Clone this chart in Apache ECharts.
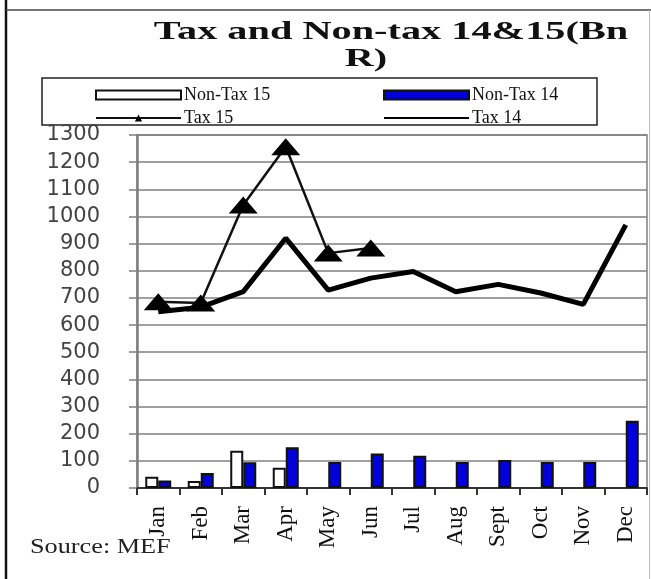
<!DOCTYPE html>
<html>
<head>
<meta charset="utf-8">
<script src="https://cdn.jsdelivr.net/npm/echarts@6/dist/echarts.min.js"></script>
<style>
html,body{margin:0;padding:0;background:#fff;}
#chart{width:651px;height:579px;}
</style>
</head>
<body>
<div id="chart"></div>
<script>
var months = ['Jan','Feb','Mar','Apr','May','Jun','Jul','Aug','Sept','Oct','Nov','Dec'];
var nonTax15 = [41, 26, 137, 75, null, null, null, null, null, null, null, null];
var nonTax14 = [28, 55, 95, 150, 96, 127, 119, 96, 103, 96, 96, 248];
var tax15 = [686, 681, 1042, 1257, 865, 884, null, null, null, null, null, null];
var tax14 = [649, 666, 723, 920, 729, 773, 797, 723, 750, 718, 676, 969];
var yMin = 0, yMax = 1300, yStep = 100;
var titleLine1 = 'Tax and Non-tax 14&15(Bn';
var titleLine2 = 'R)';
var sourceText = 'Source: MEF';

var serif = '"Liberation Serif", "Times New Roman", serif';
var chart = echarts.init(document.getElementById('chart'), null, {renderer: 'canvas'});
chart.setOption({
  animation: false,
  backgroundColor: '#fff',
  grid: {left: 137, right: 4, top: 135, bottom: 91, show: true, borderColor: '#808080', borderWidth: 1.5, backgroundColor: 'transparent'},
  graphic: [
    {type: 'line', shape: {x1: 6, y1: 0, x2: 6, y2: 579}, style: {stroke: '#111', lineWidth: 2.5}},
    {type: 'line', shape: {x1: 6, y1: 10, x2: 651, y2: 10}, style: {stroke: '#444', lineWidth: 1.5}},
    {type: 'line', shape: {x1: 649.5, y1: 10, x2: 649.5, y2: 579}, style: {stroke: '#bbb', lineWidth: 1}},
    {type: 'rect', shape: {x: 42, y: 78, width: 555, height: 47}, style: {fill: 'none', stroke: '#222', lineWidth: 1.5}},
    {type: 'text', x: 391, y: 19, scaleX: 1.55, style: {text: titleLine1, font: 'bold 26px ' + serif, fill: '#111', textAlign: 'center', textVerticalAlign: 'top'}},
    {type: 'text', x: 366, y: 46, scaleX: 1.55, style: {text: titleLine2, font: 'bold 26px ' + serif, fill: '#111', textAlign: 'center', textVerticalAlign: 'top'}},
    {type: 'text', x: 30, y: 537, scaleX: 1.25, style: {text: sourceText, font: '21px ' + serif, fill: '#222', textAlign: 'left', textVerticalAlign: 'top'}}
  ],
  legend: [
    {orient: 'vertical', left: 90, top: 81, itemGap: 5, itemWidth: 85, itemHeight: 9,
     textStyle: {fontFamily: serif, fontSize: 18, color: '#111', padding: [0, 0, 0, -2]},
     data: [{name: 'Non-Tax 15', icon: 'rect'}, {name: 'Tax 15', lineStyle: {width: 2}}]},
    {orient: 'vertical', left: 378, top: 81, itemGap: 5, itemWidth: 85, itemHeight: 9,
     textStyle: {fontFamily: serif, fontSize: 18, color: '#111', padding: [0, 0, 0, -2]},
     data: [{name: 'Non-Tax 14', icon: 'rect'}, {name: 'Tax 14', lineStyle: {width: 2}, itemStyle: {color: 'rgba(0,0,0,0)', borderWidth: 0}}]}
  ],
  xAxis: {
    type: 'category', data: months, boundaryGap: true,
    axisLine: {lineStyle: {color: '#333', width: 2}},
    axisTick: {show: true, length: 7, lineStyle: {color: '#333', width: 2}},
    axisLabel: {rotate: 90, margin: 18, fontFamily: serif, fontSize: 23, color: '#111', interval: 0},
    splitLine: {show: false}
  },
  yAxis: {
    type: 'value', min: yMin, max: yMax, interval: yStep,
    axisLine: {show: true, lineStyle: {color: '#808080', width: 2.5}},
    axisTick: {show: true, length: 8, lineStyle: {color: '#808080', width: 1.5}},
    axisLabel: {fontFamily: '"DejaVu Sans", Verdana, sans-serif', fontSize: 21, color: '#444', margin: 37,
      formatter: function (v) { return String(v); }},
    splitLine: {lineStyle: {color: '#808080', width: 1.5}}
  },
  series: [
    {name: 'Non-Tax 15', type: 'bar', data: nonTax15, barWidth: 13, barGap: '0%',
     itemStyle: {color: '#fff', borderColor: '#111', borderWidth: 2}},
    {name: 'Non-Tax 14', type: 'bar', data: nonTax14, barWidth: 13, barGap: '0%',
     itemStyle: {color: '#0000dd', borderColor: '#111', borderWidth: 2}},
    {name: 'Tax 15', type: 'line', data: tax15, z: 5, connectNulls: false,
     symbol: 'triangle', symbolSize: [29, 17],
     lineStyle: {color: '#111', width: 2.5}, itemStyle: {color: '#000'}},
    {name: 'Tax 14', type: 'line', data: tax14, z: 4, symbol: 'none', showSymbol: false,
     lineStyle: {color: '#000', width: 5}, itemStyle: {color: '#000'}}
  ]
});
</script>
</body>
</html>
